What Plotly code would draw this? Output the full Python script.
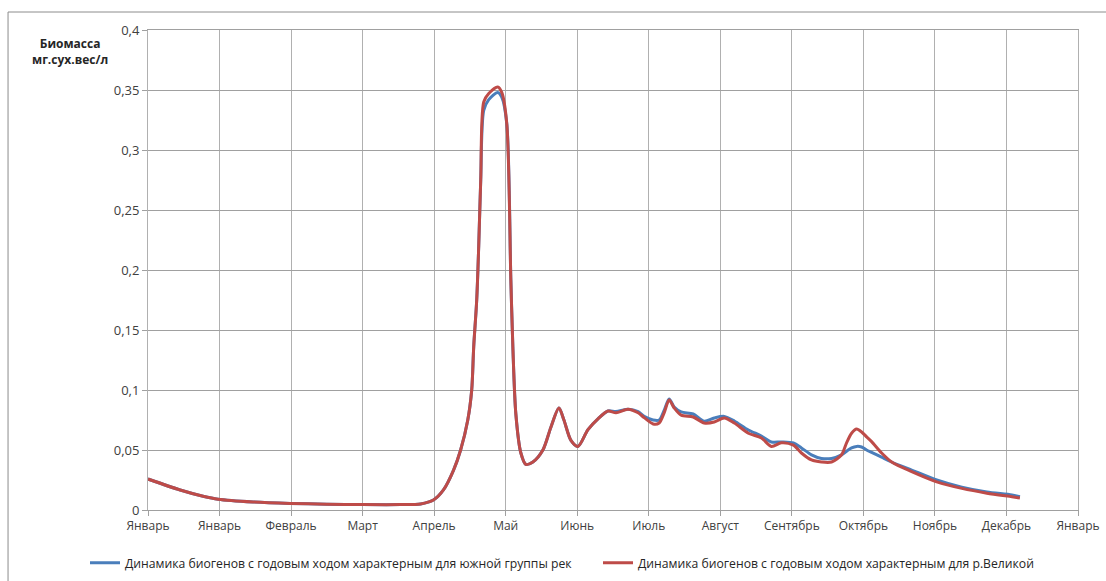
import plotly.graph_objects as go

# x in month-interval units (0 = first "Январь" tick, 13 = last "Январь" tick)
month_labels = ["Январь", "Январь", "Февраль", "Март", "Апрель", "Май", "Июнь",
                "Июль", "Август", "Сентябрь", "Октябрь", "Ноябрь", "Декабрь", "Январь"]
y_tick_vals = [0, 0.05, 0.1, 0.15, 0.2, 0.25, 0.3, 0.35, 0.4]
y_tick_text = ["0", "0,05", "0,1", "0,15", "0,2", "0,25", "0,3", "0,35", "0,4"]

x_vals = [0.0, 0.45, 0.77, 0.98, 1.47, 1.99, 2.5, 3.0, 3.53, 3.81, 3.99, 4.13, 4.27,
          4.37, 4.47, 4.525, 4.553, 4.595, 4.623, 4.651, 4.693, 4.763, 4.889, 4.945,
          5.015, 5.072, 5.10, 5.142, 5.212, 5.282, 5.38, 5.52, 5.632, 5.744, 5.814,
          5.912, 6.01, 6.15, 6.29, 6.43, 6.542, 6.71, 6.851, 6.935, 7.061, 7.145,
          7.215, 7.285, 7.355, 7.453, 7.621, 7.775, 7.915, 8.055, 8.196, 8.392,
          8.574, 8.714, 8.854, 9.022, 9.134, 9.274, 9.414, 9.555, 9.695, 9.765,
          9.835, 9.905, 9.975, 10.045, 10.115, 10.255, 10.395, 10.675, 11.025,
          11.376, 11.726, 12.076, 12.188]

south_rivers = [0.0258, 0.0167, 0.0115, 0.009, 0.0067, 0.0055, 0.0048, 0.0045, 0.0045,
                0.005, 0.0083, 0.0167, 0.033, 0.05, 0.075, 0.1, 0.136, 0.175, 0.22,
                0.275, 0.333, 0.342, 0.348, 0.344, 0.322, 0.192, 0.136, 0.08, 0.0475,
                0.038, 0.040, 0.050, 0.069, 0.085, 0.075, 0.058, 0.053, 0.067, 0.076,
                0.0825, 0.082, 0.084, 0.082, 0.078, 0.075, 0.075, 0.083, 0.0925,
                0.0858, 0.0817, 0.080, 0.074, 0.0767, 0.078, 0.0742, 0.0667, 0.0617,
                0.0567, 0.0567, 0.0558, 0.0517, 0.046, 0.043, 0.043, 0.046, 0.049,
                0.0517, 0.053, 0.0525, 0.050, 0.048, 0.044, 0.040, 0.0333, 0.025,
                0.019, 0.015, 0.0125, 0.011]

velikaya = [0.0258, 0.0167, 0.0115, 0.009, 0.0067, 0.0055, 0.0048, 0.0045, 0.0045,
            0.005, 0.0083, 0.0167, 0.033, 0.05, 0.075, 0.1, 0.136, 0.175, 0.22,
            0.275, 0.340, 0.347, 0.3525, 0.348, 0.322, 0.192, 0.136, 0.08, 0.0475,
            0.038, 0.040, 0.050, 0.069, 0.085, 0.075, 0.058, 0.053, 0.067, 0.076,
            0.0825, 0.081, 0.084, 0.081, 0.077, 0.0717, 0.0725, 0.081, 0.0917,
            0.085, 0.079, 0.0775, 0.0725, 0.0733, 0.0767, 0.0725, 0.064, 0.060,
            0.053, 0.056, 0.054, 0.0475, 0.0417, 0.040, 0.040, 0.046, 0.056,
            0.064, 0.0675, 0.065, 0.061, 0.057, 0.0475, 0.040, 0.032, 0.0235,
            0.018, 0.014, 0.011, 0.010]

FONT = "Open Sans"

fig = go.Figure()
fig.add_trace(go.Scatter(
    x=x_vals, y=south_rivers, mode="lines",
    name="Динамика биогенов с годовым ходом характерным для южной группы рек",
    line=dict(color="#4a7ebb", width=3, shape="spline", smoothing=0.8)))
fig.add_trace(go.Scatter(
    x=x_vals, y=velikaya, mode="lines",
    name="Динамика биогенов с годовым ходом характерным для р.Великой",
    line=dict(color="#be4b48", width=3, shape="spline", smoothing=0.8)))

fig.update_layout(
    width=1106, height=581,
    margin=dict(l=148, r=28, t=30, b=71, autoexpand=False),
    paper_bgcolor="white", plot_bgcolor="white",
    font=dict(family=FONT, size=12, color="#404040"),
    showlegend=True,
    legend=dict(orientation="h", x=(85 - 148) / 930, xanchor="left", y=-0.11,
                yanchor="middle",
                font=dict(family=FONT, size=12.2, color="#262626"),
                itemwidth=30, entrywidth=468, tracegroupgap=0,
                bgcolor="rgba(0,0,0,0)"),
    xaxis=dict(range=[0, 13], tickmode="array", tickvals=list(range(len(month_labels))),
               ticktext=month_labels, showgrid=True, gridcolor="#b0b0b0", gridwidth=1,
               showline=True, linecolor="#a0a0a0", mirror=True, ticks="outside",
               ticklen=5, tickcolor="#a0a0a0", zeroline=False,
               tickfont=dict(family=FONT, size=12, color="#404040")),
    yaxis=dict(range=[0, 0.4], tickmode="array", tickvals=y_tick_vals,
               ticktext=y_tick_text, showgrid=True, gridcolor="#a0a0a0", gridwidth=1,
               showline=True, linecolor="#b0b0b0", mirror=True, ticks="outside",
               ticklen=5, tickcolor="#a0a0a0", zeroline=False,
               tickfont=dict(family=FONT, size=13, color="#404040")),
)

fig.add_annotation(text="<b>Биомасса<br>мг.сух.вес/л</b>", xref="paper", yref="paper",
                   x=-0.084, y=0.955, xanchor="center", yanchor="middle",
                   showarrow=False, align="center",
                   font=dict(family=FONT, size=12, color="#262626"))

# outer chart frame
fig.add_shape(type="rect", xref="paper", yref="paper",
              x0=-0.1505, x1=1.04, y0=-0.2, y1=1.0375,
              line=dict(color="#8c8c8c", width=1), layer="below")

fig.write_html("out.html")
